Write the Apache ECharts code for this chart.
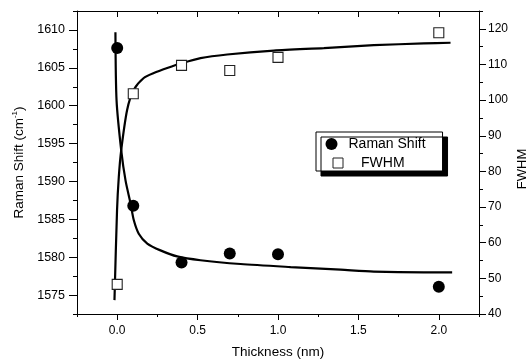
<!DOCTYPE html>
<html>
<head>
<meta charset="utf-8">
<script src="https://cdn.jsdelivr.net/npm/echarts@6/dist/echarts.min.js"></script>
<style>
html,body{margin:0;padding:0;background:#fff;}
#chart{width:528px;height:363px;}
</style>
</head>
<body>
<div id="chart"></div>
<script>
// ---- data ----
var thickness = [0, 0.1, 0.4, 0.7, 1.0, 2.0];
var ramanShift = [1607.6, 1586.8, 1579.3, 1580.5, 1580.4, 1576.1];
var fwhm = [48.3, 101.8, 109.75, 108.3, 112.0, 118.9];

var ramanFitX = [-0.011, -0.004, 0.025, 0.052, 0.083, 0.103, 0.134, 0.187, 0.269, 0.373, 0.518, 0.767, 1.078, 1.389, 1.596, 1.907, 2.083];
var ramanFitY = [1609.7, 1600.7, 1594.1, 1590.1, 1587.1, 1584.9, 1583.1, 1581.8, 1580.9, 1580.1, 1579.6, 1579.1, 1578.7, 1578.35, 1578.1, 1578.0, 1578.0];

var fwhmFitX = [-0.017, -0.001, 0.010, 0.025, 0.062, 0.103, 0.165, 0.228, 0.311, 0.404, 0.518, 0.684, 0.974, 1.285, 1.596, 1.907, 2.073];
var fwhmFitY = [43.9, 69.1, 78.5, 86.0, 97.3, 102.9, 106.2, 107.6, 109.0, 110.4, 111.8, 112.8, 113.9, 114.6, 115.4, 115.9, 116.1];

var xTickValues = [0, 0.5, 1.0, 1.5, 2.0];
var xTickLabels = ['0.0', '0.5', '1.0', '1.5', '2.0'];
var leftTickValues = [1575, 1580, 1585, 1590, 1595, 1600, 1605, 1610];
var rightTickValues = [40, 50, 60, 70, 80, 90, 100, 110, 120];

// ---- helpers ----
function zip(a, b) { return a.map(function (v, i) { return [v, b[i]]; }); }
function near(v, list) {
  for (var i = 0; i < list.length; i++) if (Math.abs(v - list[i]) < 1e-6) return i;
  return -1;
}
var FONT = 'Liberation Sans, Arial, sans-serif';
var black = '#000';
var lineStyle = { color: black, width: 1 };

var XMIN = -0.25, XMAX = 2.25;
var LMIN = 1572.5, LMAX = 1612.5;
var RMIN = 40, RMAX = 125;

var chart = echarts.init(document.getElementById('chart'), null, { renderer: 'canvas' });

var option = {
  animation: false,
  backgroundColor: '#fff',
  grid: { left: 77, right: 49, top: 11, bottom: 49, containLabel: false, outerBoundsMode: 'none' },
  xAxis: [
    {
      type: 'value', position: 'bottom', min: XMIN, max: XMAX, interval: 0.25,
      axisLine: { show: true, onZero: false, lineStyle: lineStyle },
      axisTick: { show: true, inside: false, length: 3, lineStyle: lineStyle },
      axisLabel: {
        show: true, margin: 11, color: black, fontSize: 12, fontFamily: FONT,
        formatter: function (v) { var i = near(v, xTickValues); return i >= 0 ? xTickLabels[i] : ''; }
      },
      splitLine: { show: false },
      name: 'Thickness (nm)', nameLocation: 'middle', nameGap: 31,
      nameTextStyle: { color: black, fontSize: 13.5, fontFamily: FONT }
    },
    {
      type: 'value', position: 'bottom', min: XMIN, max: XMAX,
      axisLine: { show: false, onZero: false },
      axisTick: { show: true, inside: false, length: 6, lineStyle: lineStyle, customValues: xTickValues },
      axisLabel: { show: false },
      splitLine: { show: false }
    },
    {
      type: 'value', position: 'top', min: XMIN, max: XMAX, interval: 0.25,
      axisLine: { show: true, onZero: false, lineStyle: lineStyle },
      axisTick: { show: true, inside: true, length: 3, lineStyle: lineStyle },
      axisLabel: { show: false },
      splitLine: { show: false }
    },
    {
      type: 'value', position: 'top', min: XMIN, max: XMAX,
      axisLine: { show: false, onZero: false },
      axisTick: { show: true, inside: true, length: 6, lineStyle: lineStyle, customValues: xTickValues },
      axisLabel: { show: false },
      splitLine: { show: false }
    }
  ],
  yAxis: [
    {
      type: 'value', position: 'left', min: LMIN, max: LMAX, interval: 2.5,
      axisLine: { show: true, onZero: false, lineStyle: lineStyle },
      axisTick: { show: true, inside: false, length: 4, lineStyle: lineStyle },
      axisLabel: {
        show: true, margin: 12, color: black, fontSize: 12.5, fontFamily: FONT,
        formatter: function (v) { return near(v, leftTickValues) >= 0 ? String(v) : ''; }
      },
      splitLine: { show: false },
      name: '{t|Raman Shift (cm}{s|-1}{t|)}', nameLocation: 'middle', nameGap: 50, nameRotate: 90,
      nameTextStyle: {
        color: black, fontFamily: FONT,
        rich: {
          t: { fontSize: 13.5, fontFamily: FONT, color: black, lineHeight: 16 },
          s: { fontSize: 8, fontFamily: FONT, color: black, lineHeight: 9, verticalAlign: 'top' }
        }
      }
    },
    {
      type: 'value', position: 'left', min: LMIN, max: LMAX,
      axisLine: { show: false, onZero: false },
      axisTick: { show: true, inside: false, length: 8, lineStyle: lineStyle, customValues: leftTickValues },
      axisLabel: { show: false },
      splitLine: { show: false }
    },
    {
      type: 'value', position: 'right', min: RMIN, max: RMAX, interval: 5,
      axisLine: { show: true, onZero: false, lineStyle: lineStyle },
      axisTick: { show: true, inside: false, length: 4, lineStyle: lineStyle },
      axisLabel: {
        show: true, margin: 9, color: black, fontSize: 12, fontFamily: FONT,
        formatter: function (v) { return near(v, rightTickValues) >= 0 ? String(v) : ''; }
      },
      splitLine: { show: false },
      name: 'FWHM', nameLocation: 'middle', nameGap: 37, nameRotate: 90, nameMoveOverlap: false,
      nameTextStyle: { color: black, fontSize: 13, fontFamily: FONT, padding: [0, 13, 0, 0] }
    },
    {
      type: 'value', position: 'right', min: RMIN, max: RMAX,
      axisLine: { show: false, onZero: false },
      axisTick: { show: true, inside: false, length: 7, lineStyle: lineStyle, customValues: rightTickValues },
      axisLabel: { show: false },
      splitLine: { show: false }
    }
  ],
  legend: [
    {
      data: [{ name: 'Raman Shift', icon: 'circle', itemStyle: { opacity: 1, color: black } }],
      orient: 'vertical', left: 316, top: 132,
      itemWidth: 24, itemHeight: 12,
      padding: [5, 17, 20, 9.5],
      backgroundColor: '#fff', borderColor: black, borderWidth: 1,
      shadowColor: black, shadowBlur: 0, shadowOffsetX: 5, shadowOffsetY: 5,
      selectedMode: false,
      textStyle: { color: black, fontSize: 14, fontFamily: FONT, lineHeight: 12 }
    },
    {
      data: [{ name: 'FWHM', icon: 'rect', itemStyle: { opacity: 1, color: '#fff', borderColor: '#222', borderWidth: 1 } }],
      orient: 'vertical', left: 332.5, top: 156,
      itemWidth: 10, itemHeight: 10,
      padding: 0,
      selectedMode: false,
      textStyle: { color: black, fontSize: 14, fontFamily: FONT, lineHeight: 12, padding: [0, 0, 0, 13] }
    }
  ],
  series: [
    {
      name: 'Raman fit', type: 'line', xAxisIndex: 0, yAxisIndex: 0,
      data: zip(ramanFitX, ramanFitY), showSymbol: false, smooth: 0.25,
      lineStyle: { color: black, width: 2.2 }, z: 2, silent: true
    },
    {
      name: 'FWHM fit', type: 'line', xAxisIndex: 0, yAxisIndex: 2,
      data: zip(fwhmFitX, fwhmFitY), showSymbol: false, smooth: 0.25,
      lineStyle: { color: black, width: 2.2 }, z: 2, silent: true
    },
    {
      name: 'Raman Shift', type: 'scatter', xAxisIndex: 0, yAxisIndex: 0,
      data: zip(thickness, ramanShift), symbol: 'circle', symbolSize: 12,
      itemStyle: { color: black, opacity: 1 }, z: 5
    },
    {
      name: 'FWHM', type: 'scatter', xAxisIndex: 0, yAxisIndex: 2,
      data: zip(thickness, fwhm), symbol: 'rect', symbolSize: 10,
      itemStyle: { color: '#fff', borderColor: '#222', borderWidth: 1.1, opacity: 1 }, z: 5
    }
  ]
};
chart.setOption(option);
</script>
</body>
</html>
